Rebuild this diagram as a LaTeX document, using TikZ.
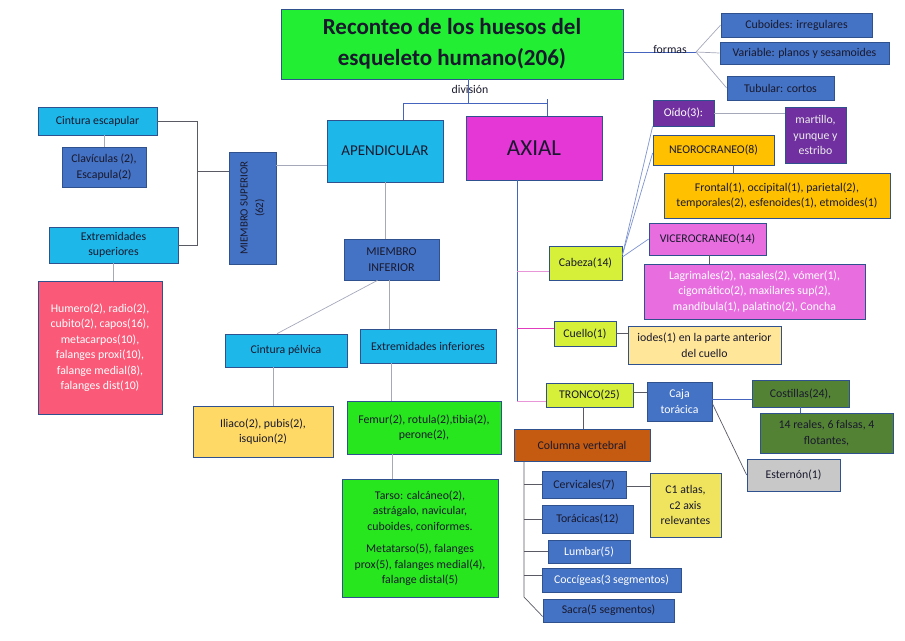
\documentclass[tikz,border=0pt]{standalone}
\usepackage{fontspec}
\setmainfont{Carlito}

\definecolor{boxline}{RGB}{47,82,143}
\definecolor{ink}{RGB}{25,25,45}
\definecolor{linegray}{RGB}{165,168,185}
\definecolor{lineblue}{RGB}{68,100,190}
\definecolor{linedark}{RGB}{90,90,100}
\definecolor{linepink}{RGB}{232,150,215}
\definecolor{linemag}{RGB}{225,60,190}
\definecolor{titlegreen}{RGB}{34,238,51}
\definecolor{cyanbox}{RGB}{29,183,234}
\definecolor{bluebox}{RGB}{68,114,196}
\definecolor{axialpink}{RGB}{229,54,214}
\definecolor{redbox}{RGB}{250,90,120}
\definecolor{sandbox}{RGB}{255,217,102}
\definecolor{limebox}{RGB}{40,230,30}
\definecolor{purplebox}{RGB}{112,48,160}
\definecolor{orangebox}{RGB}{255,192,0}
\definecolor{orchidbox}{RGB}{232,110,224}
\definecolor{yellowgreen}{RGB}{214,240,58}
\definecolor{creambox}{RGB}{255,230,153}
\definecolor{darkgreen}{RGB}{84,130,53}
\definecolor{graybox}{RGB}{200,200,200}
\definecolor{brownbox}{RGB}{197,90,17}
\definecolor{pastelyellow}{RGB}{240,228,95}

\begin{document}
\begin{tikzpicture}[x=1pt, y=-1pt,
    box/.style={draw=boxline, line width=0.7pt, align=center, inner sep=1pt, text=ink,
        font=\fontsize{11.8}{15.5}\selectfont},
    dims/.style 2 args={minimum width=#1pt, minimum height=#2pt},
    grayline/.style={draw=linegray, line width=0.7pt},
    blueline/.style={draw=lineblue, line width=1pt},
    darkline/.style={draw=linedark, line width=0.7pt}]
    \useasboundingbox (0,0) rectangle (905,640);

    % title and forms
    \node[box, fill=titlegreen, dims={342}{70}, font=\fontsize{23}{31}\selectfont\bfseries] (title) at (452,44) {Reconteo de los huesos del\\ esqueleto humano(206)};
    \node[box, fill=bluebox, dims={151}{24}] (cuboides) at (796.5,25) {Cuboides: irregulares};
    \node[box, fill=bluebox, dims={169}{22}] (variable) at (804.5,53) {Variable: planos y sesamoides};
    \node[box, fill=bluebox, dims={107}{24}] (tubular) at (780.5,88) {Tubular: cortos};
    \coordinate (fork) at (696,52);
    \draw[blueline] (title.east |- fork) -- (fork);
    \node[text=ink, font=\fontsize{11.8}{13}\selectfont] (formas) at (670,49) {formas};
    \draw[grayline] (fork) -- (cuboides.west);
    \draw[grayline] (fork) -- (variable.west);
    \draw[grayline] (fork) -- (tubular.west);

    % division
    \node[box, fill=cyanbox, dims={116}{62}, font=\fontsize{15}{17}\selectfont] (apend) at (385,151) {APENDICULAR};
    \node[box, fill=axialpink, dims={136}{64}, font=\fontsize{23}{26}\selectfont] (axial) at (534,148) {AXIAL};
    \coordinate (divL) at (403,103);
    \coordinate (divR) at (547,103);
    \draw[blueline] (title.south -| 468,0) -- (468,103);
    \draw[blueline] (divL |- apend.north) -- (divL) -- (divR) -- (divR |- axial.north);
    \draw[blueline] (547,99) -- (divR);
    \node[text=ink, font=\fontsize{11.8}{13}\selectfont] (division) at (470,89) {división};

    % miembro superior
    \node[box, fill=bluebox, dims={112}{47}, rotate=90, font=\fontsize{11}{15.5}\selectfont] (msup) at (252.5,208) {MIEMBRO SUPERIOR\\ (62)};
    \node[box, fill=cyanbox, dims={119}{28}] (cesc) at (97.5,121) {Cintura escapular};
    \node[box, fill=bluebox, dims={84}{40}] (clav) at (104,167) {Clavículas (2),\\ Escapula(2)};
    \node[box, fill=cyanbox, dims={129}{36}] (exts) at (113.5,245) {Extremidades\\ superiores};
    \node[box, fill=redbox, dims={124}{133}, text=white] (humero) at (100,347.5) {Humero(2), radio(2),\\ cubito(2), capos(16),\\ metacarpos(10),\\ falanges proxi(10),\\ falange medial(8),\\ falanges dist(10)};
    \coordinate (brk) at (197,171);
    \draw[darkline] (cesc.east) -| (brk);
    \draw[darkline] (exts.east) -| (brk);
    \draw[darkline] (brk) -- (brk -| msup.north);
    \draw[grayline] ([yshift=-14pt]apend.west) -- ([yshift=-14pt]apend.west -| msup.south);
    \draw[grayline] (clav.north) -- (clav.north |- cesc.south);
    \draw[grayline] (exts.south) -- (exts.south |- humero.north);

    % miembro inferior
    \node[box, fill=bluebox, dims={95}{41}, font=\fontsize{12}{15.5}\selectfont] (minf) at (391.5,259.5) {MIEMBRO\\ INFERIOR};
    \node[box, fill=cyanbox, dims={122}{33}] (cpel) at (286,350.5) {Cintura pélvica};
    \node[box, fill=cyanbox, dims={136}{34}] (einf) at (428,346) {Extremidades inferiores};
    \node[box, fill=sandbox, dims={140}{51}] (iliaco) at (263,431.5) {Iliaco(2), pubis(2),\\ isquion(2)};
    \node[box, fill=limebox, dims={154}{53}] (femur) at (424,427.5) {Femur(2), rotula(2),tibia(2),\\ perone(2),};
    \node[box, fill=limebox, dims={156}{118}] (tarso) at (420,538) {Tarso: calcáneo(2),\\ astrágalo, navicular,\\ cuboides, coniformes.\\[7pt] Metatarso(5), falanges\\ prox(5), falanges medial(4),\\ falange distal(5)};
    \draw[grayline] (apend.south) -- (apend.south |- minf.north);
    \draw[grayline] ([xshift=-14pt]minf.south) -- ([xshift=-9pt]cpel.north);
    \draw[grayline] ([xshift=-2pt]minf.south) -- ([xshift=-2pt]minf.south |- einf.north);
    \draw[grayline] ([xshift=-13pt]cpel.south) -- ([xshift=-13pt]cpel.south |- iliaco.north);
    \draw[grayline] ([xshift=-37pt]einf.south) -- ([xshift=-37pt]einf.south |- femur.north);
    \draw[grayline] ([xshift=-32pt]femur.south) -- ([xshift=-32pt]femur.south |- tarso.north);

    % cabeza
    \node[box, fill=yellowgreen, dims={73}{34}] (cabeza) at (585.5,263) {Cabeza(14)};
    \node[box, fill=purplebox, dims={61}{26}, text=white] (oido) at (683.5,113) {Oído(3):};
    \node[box, fill=purplebox, dims={61}{56}, text=white!85!gray] (martillo) at (815.5,135) {martillo,\\ yunque y\\ estribo};
    \node[box, fill=orangebox, dims={121}{30}] (neo) at (713.5,150) {NEOROCRANEO(8)};
    \node[box, fill=orangebox, dims={226}{45}] (frontal) at (777,195.5) {Frontal(1), occipital(1), parietal(2),\\ temporales(2), esfenoides(1), etmoides(1)};
    \node[box, fill=orchidbox, dims={117}{32}] (vicero) at (707.5,239) {VICEROCRANEO(14)};
    \node[box, fill=orchidbox, dims={221}{55}, text=white] (lagri) at (754.5,291.5) {Lagrimales(2), nasales(2), vómer(1),\\ cigomático(2), maxilares sup(2),\\ mandíbula(1), palatino(2), Concha};
    \draw[grayline, draw=lineblue!70] ([yshift=8pt]cabeza.east) -- (oido.south west);
    \draw[grayline, draw=lineblue!70] ([yshift=8pt]cabeza.east) -- ([yshift=-3pt]neo.west);
    \draw[grayline, draw=lineblue!70] ([yshift=6pt]cabeza.east) -- (vicero.west);
    \draw[grayline] (oido.east) -- (oido.east -| martillo.west);
    \draw[darkline] ([xshift=19.5pt]neo.south) -- ([xshift=19.5pt]neo.south |- frontal.north);
    \draw[darkline] ([xshift=1.5pt]vicero.south) -- ([xshift=1.5pt]vicero.south |- lagri.north);

    % cuello y tronco
    \node[box, fill=yellowgreen, dims={62}{25}] (cuello) at (585,333.5) {Cuello(1)};
    \node[box, fill=creambox, dims={153}{38}] (iodes) at (704.5,345) {iodes(1) en la parte anterior\\ del cuello};
    \node[box, fill=yellowgreen, dims={87}{24}] (tronco) at (589.5,395) {TRONCO(25)};
    \node[box, fill=bluebox, dims={65}{39}, text=white] (caja) at (679.5,401.5) {Caja\\ torácica};
    \node[box, fill=darkgreen, dims={97}{27}] (costillas) at (800.5,393.5) {Costillas(24),};
    \node[box, fill=darkgreen, dims={133}{40}] (reales) at (826.5,433) {14 reales, 6 falsas, 4\\ flotantes,};
    \node[box, fill=graybox, dims={93}{32}] (esternon) at (793.5,475) {Esternón(1)};
    \coordinate (stem) at (517,402);
    \draw[blueline] (axial.south -| stem) -- (stem);
    \draw[draw=linepink, line width=1pt] ([yshift=-8pt]cabeza.west) -- ([yshift=-8pt]cabeza.west -| stem);
    \draw[draw=linemag, line width=1pt] ([yshift=5pt]cuello.west) -- ([yshift=5pt]cuello.west -| stem);
    \draw[draw=linepink, line width=1pt] ([yshift=-6pt]tronco.west) -- ([yshift=-6pt]tronco.west -| stem);
    \draw[darkline] (cuello.east) -- (cuello.east -| iodes.west);
    \draw[darkline] ([yshift=3pt]tronco.east) -- ([yshift=3pt]tronco.east -| caja.west);
    \draw[blueline] ([yshift=2pt]caja.east) -- ([yshift=2pt]caja.east -| costillas.west);
    \draw[blueline] (costillas.south) -- (costillas.south |- reales.north);
    \draw[darkline] ([yshift=-2pt]caja.east) -- (esternon.west);

    % columna vertebral
    \node[box, fill=brownbox, dims={136}{32}] (columna) at (582,445) {Columna vertebral};
    \node[box, fill=bluebox, dims={84}{27}] (cerv) at (584,484.5) {Cervicales(7)};
    \node[box, fill=pastelyellow, dims={71}{64}] (c1) at (685.5,505) {C1 atlas,\\ c2 axis\\ relevantes};
    \node[box, fill=bluebox, dims={91}{28}] (torac) at (587.5,519) {Torácicas(12)};
    \node[box, fill=bluebox, dims={82}{23}, text=white] (lumbar) at (589,551.5) {Lumbar(5)};
    \node[box, fill=bluebox, dims={139}{24}, text=white] (cocci) at (611.5,580) {Coccígeas(3 segmentos)};
    \node[box, fill=bluebox, dims={131}{23}] (sacra) at (608.5,610.5) {Sacra(5 segmentos)};
    \coordinate (spine) at (524,597);
    \draw[darkline] ([xshift=-6.5pt]tronco.south) -- ([xshift=-6.5pt]tronco.south |- columna.north);
    \draw[darkline] (columna.south -| spine) -- (spine) -- ([yshift=-6pt]sacra.west);
    \draw[darkline] (cerv.west -| spine) -- (cerv.west);
    \draw[darkline] (torac.west -| spine) -- (torac.west);
    \draw[darkline] (lumbar.west -| spine) -- (lumbar.west);
    \draw[darkline] ([yshift=5pt]cocci.west -| spine) -- ([yshift=5pt]cocci.west);
    \draw[darkline] ([yshift=-1.5pt]cerv.east) -- ([yshift=-1.5pt]cerv.east -| c1.west);
\end{tikzpicture}
\end{document}
